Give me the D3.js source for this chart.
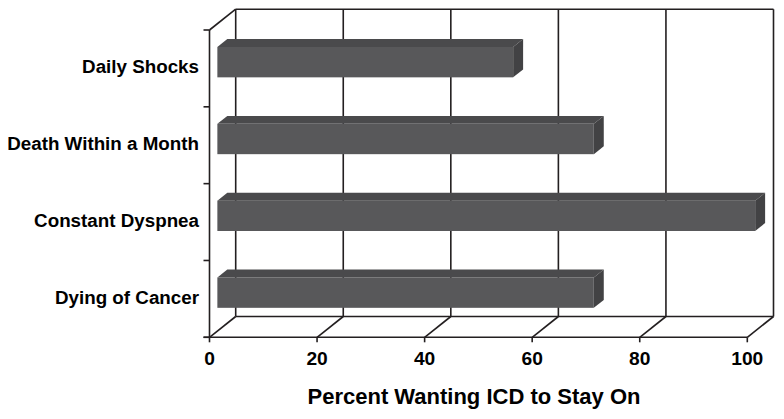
<!DOCTYPE html>
<html>
<head>
<meta charset="utf-8">
<script src="https://cdn.jsdelivr.net/npm/d3@7"></script>
<style>
  body { margin: 0; background: #fff; }
  text { font-family: Arial, "Liberation Sans", sans-serif; font-weight: bold; fill: #000; }
</style>
</head>
<body>
<script>
const categories = ["Daily Shocks", "Death Within a Month", "Constant Dyspnea", "Dying of Cancer"];
const values = [55, 70, 100, 70];
const xTicks = [0, 20, 40, 60, 80, 100];
const axisTitle = "Percent Wanting ICD to Stay On";

const width = 784, height = 419;
const line = "#231f20";

// front plane of the box
const pLeft = 209.5, pRight = 747.3, pTop = 30, pBottom = 337.3;
// depth vector of the box
const dx = 26.2, dy = -20.8;
const barFront = 0.3, barBack = 0.68;

const svg = d3.select("body").append("svg")
  .attr("width", width)
  .attr("height", height);

const x = d3.scaleLinear().domain([0, 100]).range([pLeft, pRight]);
const y = d3.scaleBand().domain(categories).range([pTop, pBottom]).paddingInner(0).paddingOuter(0);

const lw = 1.6;

// back wall grid lines
const g = svg.append("g").attr("stroke", line).attr("stroke-width", lw).attr("fill", "none");
g.selectAll(".grid").data(xTicks).enter().append("line")
  .attr("x1", d => x(d) + dx).attr("x2", d => x(d) + dx)
  .attr("y1", pTop + dy).attr("y2", pBottom + dy);
g.append("line")
  .attr("x1", x(0) + dx).attr("x2", x(100) + dx)
  .attr("y1", pTop + dy).attr("y2", pTop + dy);
g.append("line")
  .attr("x1", x(0) + dx).attr("x2", x(100) + dx)
  .attr("y1", pBottom + dy).attr("y2", pBottom + dy);
// floor diagonals
g.selectAll(".floor").data(xTicks).enter().append("line")
  .attr("x1", d => x(d)).attr("x2", d => x(d) + dx)
  .attr("y1", pBottom).attr("y2", pBottom + dy);
// left wall top diagonal
g.append("line")
  .attr("x1", pLeft).attr("x2", pLeft + dx)
  .attr("y1", pTop).attr("y2", pTop + dy);

// bars
const bh = y.bandwidth() * 0.395;
const bars = svg.append("g").selectAll("g").data(categories).enter().append("g");
bars.each(function(c, i) {
  const el = d3.select(this);
  const ox = dx * barFront, oy = dy * barFront;
  const bx = dx * (barBack - barFront), by = dy * (barBack - barFront);
  const x0 = x(0) + ox, x1 = x(values[i]) + ox;
  const yc = y(c) + y.bandwidth() / 2 + oy;
  const y0 = yc - bh / 2, y1 = yc + bh / 2;
  // top face
  el.append("path")
    .attr("d", `M${x0},${y0}L${x0 + bx},${y0 + by}L${x1 + bx},${y0 + by}L${x1},${y0}Z`)
    .attr("fill", "#4a4a4c");
  // side face
  el.append("path")
    .attr("d", `M${x1},${y0}L${x1 + bx},${y0 + by}L${x1 + bx},${y1 + by}L${x1},${y1}Z`)
    .attr("fill", "#424244");
  // front face
  el.append("rect")
    .attr("x", x0).attr("y", y0)
    .attr("width", x1 - x0).attr("height", bh)
    .attr("fill", "#58585a");
});

// front axes
const a = svg.append("g").attr("stroke", line).attr("stroke-width", lw).attr("fill", "none");
a.append("line").attr("x1", pLeft).attr("x2", pLeft).attr("y1", pTop).attr("y2", pBottom);
a.append("line").attr("x1", pLeft - 6).attr("x2", pRight).attr("y1", pBottom).attr("y2", pBottom);
const yBounds = categories.map(c => y(c)).concat([pBottom]);
a.selectAll(".yt").data(yBounds).enter().append("line")
  .attr("x1", pLeft - 6).attr("x2", pLeft)
  .attr("y1", d => d).attr("y2", d => d);
a.selectAll(".xt").data(xTicks).enter().append("line")
  .attr("x1", d => x(d)).attr("x2", d => x(d))
  .attr("y1", pBottom).attr("y2", pBottom + 5);

// tick labels
svg.append("g").selectAll("text").data(xTicks).enter().append("text")
  .attr("x", d => x(d)).attr("y", 365)
  .attr("text-anchor", "middle")
  .style("font-size", "19.2px")
  .text(d => d);

// category labels
svg.append("g").selectAll("text").data(categories).enter().append("text")
  .attr("x", 199).attr("y", d => y(d) + y.bandwidth() / 2 + 5)
  .attr("text-anchor", "end")
  .style("font-size", "18.8px")
  .text(d => d);

svg.append("text")
  .attr("x", 474).attr("y", 404)
  .attr("text-anchor", "middle")
  .style("font-size", "22px")
  .text(axisTitle);
</script>
</body>
</html>
